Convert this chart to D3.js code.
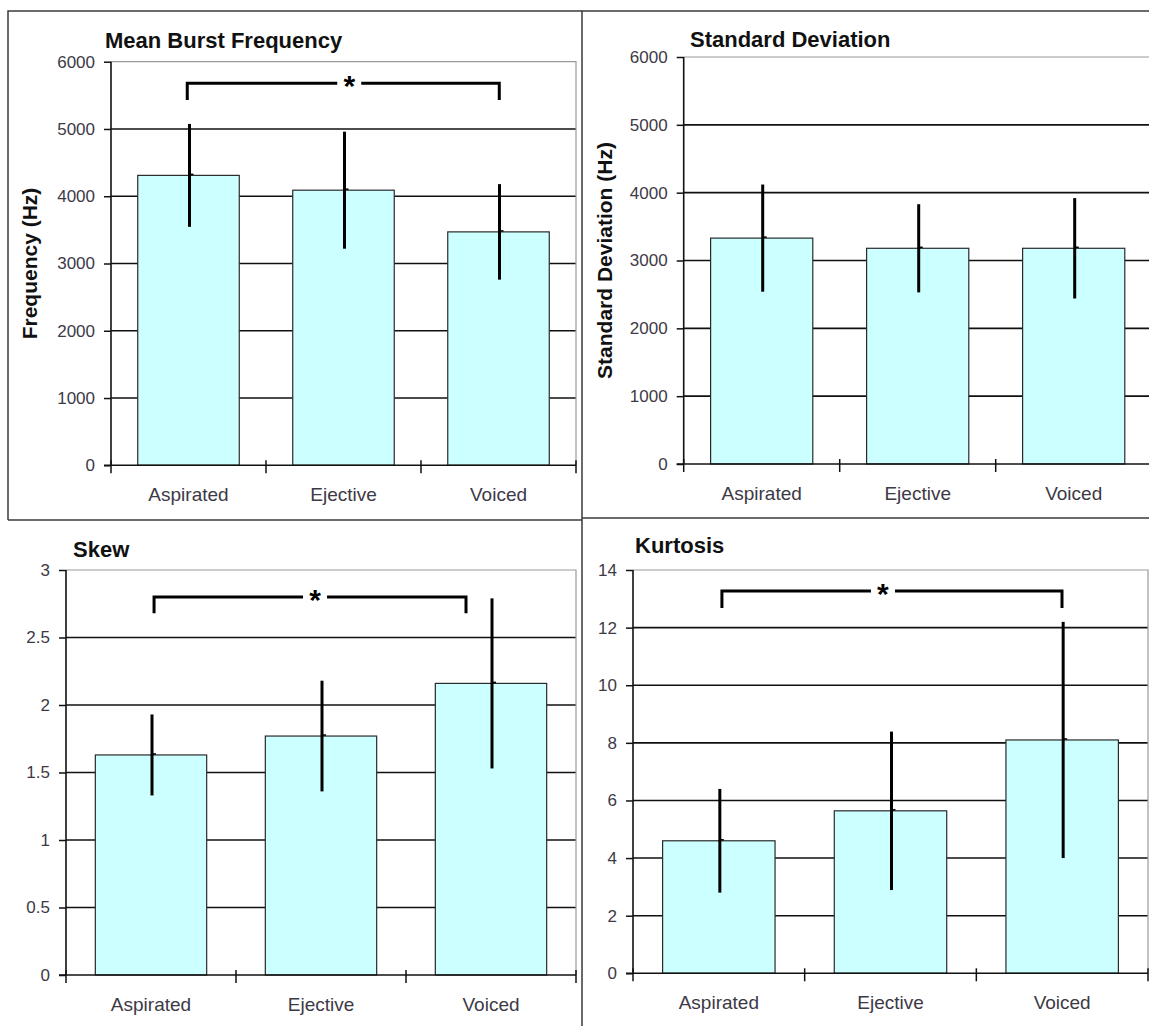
<!DOCTYPE html>
<html>
<head>
<meta charset="utf-8">
<script src="https://cdn.jsdelivr.net/npm/d3@7"></script>
<style>
  html, body { margin: 0; padding: 0; background: #fff; }
  svg { display: block; }
  text { font-family: Arial, "Liberation Sans", sans-serif; }
</style>
</head>
<body>
<svg id="chart" width="1149" height="1026"></svg>
<script>
// Burst spectral moments by stop type
const categories = ["Aspirated", "Ejective", "Voiced"];

const meanFreq = [4310, 4090, 3470];
const meanFreqErr = [765, 870, 710];
const meanFreqTicks = [0, 1000, 2000, 3000, 4000, 5000, 6000];

const sdFreq = [3330, 3180, 3180];
const sdFreqErr = [790, 650, 740];
const sdFreqTicks = [0, 1000, 2000, 3000, 4000, 5000, 6000];

const skew = [1.63, 1.77, 2.16];
const skewErr = [0.30, 0.41, 0.63];
const skewTicks = [0, 0.5, 1, 1.5, 2, 2.5, 3];

const kurtosis = [4.6, 5.64, 8.1];
const kurtosisErr = [1.8, 2.75, 4.1];
const kurtosisTicks = [0, 2, 4, 6, 8, 10, 12, 14];

// significance brackets (Aspirated vs Voiced): [bar level, end level]
const meanFreqSig = [5680, 5430];
const skewSig = [2.80, 2.68];
const kurtosisSig = [13.27, 12.68];

const svg = d3.select("#chart");

// panel frames
const frame = svg.append("g").attr("fill", "none").attr("stroke", "#3a3a3a").attr("stroke-width", 1.5);
frame.append("path").attr("d", "M8,520 L8,11 L582,11");
frame.append("path").attr("d", "M8,520 L582,520");
frame.append("path").attr("d", "M582,1026 L582,11 L1149,11");
frame.append("path").attr("d", "M582,518 L1149,518");

function drawPanel(cfg) {
  const g = svg.append("g");
  const x = d3.scaleBand().domain(categories)
    .range([cfg.left, cfg.right]).paddingInner(0.345).paddingOuter(0.1725);
  // continuous position along the category axis (category i spans i..i+1)
  const u = d3.scaleLinear().domain([0, categories.length]).range([cfg.left, cfg.right]);
  const y = d3.scaleLinear().domain([0, d3.max(cfg.ticks)]).range([cfg.bottom, cfg.top]);

  // horizontal gridlines
  g.append("g").selectAll("line").data(cfg.ticks.slice(1, -1)).join("line")
    .attr("x1", cfg.left).attr("x2", cfg.right)
    .attr("y1", d => y(d)).attr("y2", d => y(d))
    .attr("stroke", "#111").attr("stroke-width", 1.6);

  // plot area border (top and right)
  g.append("path")
    .attr("d", `M${cfg.left},${y(d3.max(cfg.ticks))} L${cfg.right},${y(d3.max(cfg.ticks))} L${cfg.right},${cfg.bottom}`)
    .attr("fill", "none").attr("stroke", "#9a9a9a").attr("stroke-width", 1.2);

  // bars
  g.append("g").selectAll("rect").data(cfg.values).join("rect")
    .attr("x", (d, i) => x(categories[i]))
    .attr("width", x.bandwidth())
    .attr("y", d => y(d))
    .attr("height", d => cfg.bottom - y(d))
    .attr("fill", "#ccffff").attr("stroke", "#2a2a2a").attr("stroke-width", 1.2);

  // error bars with a small mark at the mean
  const eb = g.append("g").attr("stroke", "#000");
  eb.selectAll("line.err").data(cfg.values).join("line").attr("class", "err")
    .attr("x1", (d, i) => x(categories[i]) + x.bandwidth() / 2 + 1)
    .attr("x2", (d, i) => x(categories[i]) + x.bandwidth() / 2 + 1)
    .attr("y1", (d, i) => y(d + cfg.errors[i]))
    .attr("y2", (d, i) => y(d - cfg.errors[i]))
    .attr("stroke-width", 3);
  eb.selectAll("line.mid").data(cfg.values).join("line").attr("class", "mid")
    .attr("x1", (d, i) => x(categories[i]) + x.bandwidth() / 2 + 1)
    .attr("x2", (d, i) => x(categories[i]) + x.bandwidth() / 2 + 5)
    .attr("y1", d => y(d) - 1).attr("y2", d => y(d) - 1)
    .attr("stroke-width", 1.5);

  // y axis
  const yAxis = d3.axisLeft(y).tickValues(cfg.ticks).tickSize(7).tickPadding(9)
    .tickFormat(d => String(d));
  const ya = g.append("g").attr("transform", `translate(${cfg.left},0)`).call(yAxis);
  ya.select(".domain").remove();
  ya.selectAll(".tick line").attr("stroke", "#111").attr("stroke-width", 1.5);
  ya.selectAll(".tick text").attr("font-size", 17).attr("fill", "#3d3946")
    .attr("font-family", "Arial, 'Liberation Sans', sans-serif");
  g.append("line").attr("x1", cfg.left).attr("x2", cfg.left)
    .attr("y1", cfg.top).attr("y2", cfg.bottom)
    .attr("stroke", "#111").attr("stroke-width", 1.6);

  // x axis line with crossing ticks at category boundaries
  g.append("line").attr("x1", cfg.left - 7).attr("x2", cfg.right)
    .attr("y1", cfg.bottom).attr("y2", cfg.bottom)
    .attr("stroke", "#111").attr("stroke-width", 1.6);
  const bounds = d3.range(categories.length + 1).map(i => u(i));
  g.append("g").selectAll("line").data(bounds).join("line")
    .attr("x1", d => d).attr("x2", d => d)
    .attr("y1", cfg.bottom - 5).attr("y2", cfg.bottom + 8)
    .attr("stroke", "#111").attr("stroke-width", 1.5);

  // category labels
  g.append("g").selectAll("text").data(categories).join("text")
    .attr("x", d => x(d) + x.bandwidth() / 2)
    .attr("y", cfg.bottom + 36)
    .attr("text-anchor", "middle").attr("font-size", 19).attr("fill", "#3d3946")
    .text(d => d);

  // title
  g.append("text").attr("x", cfg.titleX).attr("y", cfg.titleY)
    .attr("font-size", 22).attr("font-weight", "bold").attr("fill", "#111")
    .text(cfg.title);

  // y axis title
  if (cfg.yTitle) {
    g.append("text")
      .attr("transform", `translate(${cfg.yTitleX},${(cfg.top + cfg.bottom) / 2}) rotate(-90)`)
      .attr("text-anchor", "middle").attr("font-size", 21).attr("font-weight", "bold")
      .attr("fill", "#111").text(cfg.yTitle);
  }

  // significance bracket with asterisk
  if (cfg.sig) {
    const [lvl, drop] = cfg.sig;
    const xa = u(cfg.sigFrom), xb = u(cfg.sigTo), xs = u(cfg.sigStar);
    const yl = y(lvl), yd = y(drop);
    const br = g.append("g").attr("fill", "none").attr("stroke", "#000").attr("stroke-width", 3);
    br.append("path").attr("d", `M${xa},${yd} L${xa},${yl} L${xs - 12},${yl}`);
    br.append("path").attr("d", `M${xs + 12},${yl} L${xb},${yl} L${xb},${yd}`);
    g.append("text").attr("x", xs).attr("y", yl + 13)
      .attr("text-anchor", "middle").attr("font-size", 30).attr("font-weight", "bold")
      .attr("fill", "#000").text("*");
  }
}

drawPanel({
  title: "Mean Burst Frequency", titleX: 105, titleY: 48,
  yTitle: "Frequency (Hz)", yTitleX: 37,
  values: meanFreq, errors: meanFreqErr, ticks: meanFreqTicks,
  sig: meanFreqSig, sigFrom: 0.492, sigTo: 2.505, sigStar: 1.537,
  left: 111, right: 576, top: 61.7, bottom: 465.3
});
drawPanel({
  title: "Standard Deviation", titleX: 690, titleY: 47,
  yTitle: "Standard Deviation (Hz)", yTitleX: 612,
  values: sdFreq, errors: sdFreqErr, ticks: sdFreqTicks, sig: null,
  left: 683.7, right: 1151.7, top: 57, bottom: 464
});
drawPanel({
  title: "Skew", titleX: 73, titleY: 557,
  yTitle: null,
  values: skew, errors: skewErr, ticks: skewTicks,
  sig: skewSig, sigFrom: 0.518, sigTo: 2.353, sigStar: 1.465,
  left: 66, right: 576, top: 570, bottom: 975
});
drawPanel({
  title: "Kurtosis", titleX: 635, titleY: 553,
  yTitle: null,
  values: kurtosis, errors: kurtosisErr, ticks: kurtosisTicks,
  sig: kurtosisSig, sigFrom: 0.518, sigTo: 2.499, sigStar: 1.456,
  left: 633, right: 1148, top: 570, bottom: 973.3
});
</script>
</body>
</html>
